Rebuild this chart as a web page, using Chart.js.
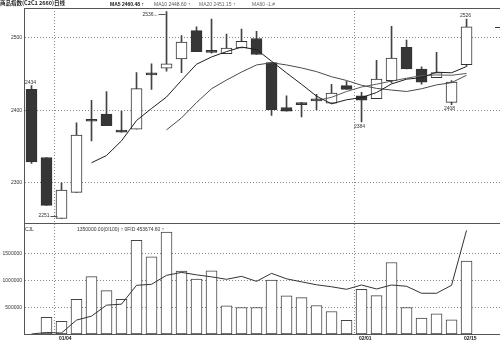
<!DOCTYPE html>
<html><head><meta charset="utf-8">
<script src="https://cdn.jsdelivr.net/npm/chart.js@4.4.0/dist/chart.umd.min.js"></script>
<style>
html,body{margin:0;padding:0;background:#fff;}
#wrap{position:relative;width:500px;height:343px;overflow:hidden;background:#fff;}
canvas{position:absolute;left:0;top:0;}
.t{position:absolute;font-family:"Liberation Sans",Arial,sans-serif;font-size:5px;line-height:6px;white-space:nowrap;color:#222;}
</style></head><body>
<div id="wrap">
<canvas id="c" width="500" height="343"></canvas>
<div class="t" style="left:0;top:0;font-family:'Noto Sans CJK SC';font-weight:bold;font-size:5.5px;">商品指数(C2C1 2660)日线</div>
<div class="t" style="left:110px;top:1px;color:#111;font-weight:bold">MA5 2460.48 ↑</div>
<div class="t" style="left:154px;top:1px;color:#555">MA10 2448.60 ↑</div>
<div class="t" style="left:199px;top:1px;color:#666">MA20 2451.15 ↑</div>
<div class="t" style="left:252px;top:1px;color:#666">MA60 -1.#</div>
<div class="t" style="left:25px;top:226px;color:#333">CJL</div>
<div class="t" style="left:77px;top:226px;color:#333">1350000.00(0/100) ↑ 0FID 453674.60 ↑</div>
</div>
<script>
// ---- data ----
const opens  = [2429,2335,2251,2287,2385,2395,2373,2374,2449,2458,2471,2510,2482,2478,2486,2499,2466,2404,2410,2413,2410,2434,2420,2416,2441,2487,2457,2445,2411,2463];
const highs  = [2434,2335,2300,2383,2414,2426,2399,2452,2464,2536,2503,2515,2526,2505,2512,2509,2466,2420,2411,2422,2436,2440,2425,2469,2516,2497,2460,2480,2441,2526];
const lows   = [2327,2269,2251,2287,2358,2379,2370,2374,2429,2454,2452,2481,2479,2478,2486,2477,2393,2399,2391,2401,2410,2429,2384,2416,2438,2457,2436,2445,2408,2461];
const closes = [2329,2269,2290,2366,2385,2379,2370,2430,2449,2464,2494,2481,2480,2486,2495,2477,2401,2399,2408,2413,2424,2429,2414,2443,2472,2457,2439,2452,2439,2515];
const ma5  = [null,null,null,null,2327.8,2337.8,2358.0,2386.0,2402.6,2418.4,2441.4,2463.6,2473.6,2481.0,2487.2,2483.8,2467.8,2451.6,2436.0,2419.6,2409.0,2414.6,2417.6,2424.6,2436.4,2443.0,2445.0,2452.6,2451.8,2460.4];
const ma10 = [null,null,null,null,null,null,null,null,null,2373.1,2389.6,2410.8,2429.8,2441.8,2452.8,2462.6,2465.7,2462.6,2458.5,2453.4,2446.4,2441.2,2434.6,2430.3,2428.0,2426.0,2429.8,2435.1,2438.2,2448.4];
const ma20 = [null,null,null,null,null,null,null,null,null,null,null,null,null,null,null,null,null,null,null,2413.3,2418.0,2426.0,2432.2,2436.1,2440.4,2444.3,2447.8,2448.9,2448.4,2450.9];
const volumes = [null,309000,235000,648000,1069000,809000,648000,1746000,1438000,1900000,1173000,1025000,1179000,525000,494000,494000,1006000,710000,679000,531000,420000,253000,833000,716000,1333000,494000,296000,377000,265000,1358000];
const volLine = [0,28000,18000,259000,333000,537000,556000,907000,926000,1093000,1148000,1102000,1065000,1019000,1074000,981000,1130000,1028000,972000,917000,880000,833000,913000,839000,913000,889000,759000,759000,907000,1931000];
const priceTicks = [2300,2400,2500];
const volTicks = [500000,1000000,1500000];
const dateLabels = ['01/04','02/01','02/15'];
const dateLabelCandle = [3,23,30];
const markCandle = [1,3,10,23,29,30];
const markKind   = ['high','low','high','low','low','high'];

// ---- chart ----
const FONT = '"Liberation Sans", Arial, sans-serif';
const idx = closes.map((_, i) => i + 1);
const isUp = closes.map((c, i) => c > opens[i]);
const isDoji = closes.map((c, i) => c === opens[i]);
const bodyFill = idx.map((_, i) => isDoji[i] ? '#333' : (isUp[i] ? '#ffffff' : '#363636'));

const framePlugin = {
  id: 'frame',
  afterDraw(chart) {
    const {ctx, chartArea, scales} = chart;
    ctx.save();
    ctx.strokeStyle = '#555';
    ctx.lineWidth = 1;
    [scales.y.top, scales.y.bottom].forEach(yy => {
      const p = Math.round(yy) + 0.5;
      ctx.beginPath(); ctx.moveTo(chartArea.left, p); ctx.lineTo(chartArea.right, p); ctx.stroke();
    });
    const py = Math.round(scales.y.getPixelForValue(closes[closes.length - 1])) + 0.5;
    ctx.strokeStyle = '#333';
    ctx.beginPath(); ctx.moveTo(chartArea.right - 5, py); ctx.lineTo(chartArea.right, py); ctx.stroke();
    ctx.restore();
  }
};

const markPlugin = {
  id: 'marks',
  afterDatasetsDraw(chart) {
    const {ctx, scales} = chart;
    ctx.save();
    ctx.font = '5px ' + FONT;
    ctx.fillStyle = '#333';
    ctx.strokeStyle = '#555';
    ctx.lineWidth = 1;
    markCandle.forEach((c, k) => {
      const kind = markKind[k];
      const v = kind === 'high' ? highs[c - 1] : lows[c - 1];
      const x = scales.x.getPixelForValue(c);
      const y = scales.y.getPixelForValue(v);
      const txt = String(v);
      if (c === 10) {
        ctx.textAlign = 'right'; ctx.textBaseline = 'middle';
        ctx.fillText(txt + '←', x - 8, y + 2.5);
        ctx.beginPath(); ctx.moveTo(x - 8, Math.round(y + 2.5) + 0.5); ctx.lineTo(x - 1, Math.round(y + 2.5) + 0.5); ctx.stroke();
      } else if (c === 3) {
        ctx.textAlign = 'right'; ctx.textBaseline = 'middle';
        ctx.fillText(txt, x - 12, y - 2.5);
        ctx.beginPath(); ctx.moveTo(x - 11, Math.round(y - 2.5) + 0.5); ctx.lineTo(x - 4, Math.round(y - 2.5) + 0.5); ctx.stroke();
      } else if (kind === 'high') {
        ctx.textAlign = 'center'; ctx.textBaseline = 'bottom';
        ctx.fillText(txt, x - 1, y - 1);
      } else {
        ctx.textAlign = 'center'; ctx.textBaseline = 'top';
        ctx.fillText(txt, x - 2, y + 2);
      }
    });
    ctx.restore();
  }
};

const yTickStyle = {font: {size: 5, family: FONT}, color: '#333', padding: 2, callback: v => String(v)};

new Chart(document.getElementById('c').getContext('2d'), {
  data: {
    datasets: [
      {type: 'line', data: idx.map(i => ({x: i, y: ma5[i - 1]})), borderColor: '#1e1e1e', borderWidth: 1, pointRadius: 0, tension: 0, yAxisID: 'y', order: 1},
      {type: 'line', data: idx.map(i => ({x: i, y: ma10[i - 1]})), borderColor: '#4a4a4a', borderWidth: 1, pointRadius: 0, tension: 0, yAxisID: 'y', order: 1},
      {type: 'line', data: idx.map(i => ({x: i, y: ma20[i - 1]})), borderColor: '#5a5a5a', borderWidth: 1, pointRadius: 0, tension: 0, yAxisID: 'y', order: 1},
      {type: 'bar', data: idx.map(i => ({x: i, y: [opens[i - 1], closes[i - 1]]})), backgroundColor: bodyFill, borderColor: '#333', borderWidth: 1, borderSkipped: false, barThickness: 11, minBarLength: 2, grouped: false, yAxisID: 'y', order: 2},
      {type: 'bar', data: idx.map(i => ({x: i, y: [lows[i - 1], highs[i - 1]]})), backgroundColor: '#444', barThickness: 1, grouped: false, yAxisID: 'y', order: 3},
      {type: 'line', data: idx.map(i => ({x: i, y: volLine[i - 1]})), borderColor: '#333', borderWidth: 1, pointRadius: 0, tension: 0, yAxisID: 'y2', order: 1},
      {type: 'bar', data: idx.map(i => ({x: i, y: volumes[i - 1]})), backgroundColor: '#ffffff', borderColor: '#444', borderWidth: 1, borderSkipped: false, barThickness: 11, grouped: false, yAxisID: 'y2', order: 2}
    ]
  },
  options: {
    responsive: false,
    animation: false,
    events: [],
    layout: {padding: {top: 8, left: 0, right: 0, bottom: 0}},
    plugins: {legend: {display: false}, tooltip: {enabled: false}},
    scales: {
      x: {
        type: 'linear', min: 0.5, max: 32.23, offset: false,
        afterBuildTicks: s => { s.ticks = dateLabelCandle.map(c => ({value: c - 0.5})); },
        ticks: {callback: (v, i) => dateLabels[i], align: 'start', labelOffset: 5, padding: 2, maxRotation: 0, autoSkip: false, font: {size: 5, weight: 'bold', family: FONT, lineHeight: 1}, color: '#111'},
        grid: {offset: false, color: c => (c.index < 2 ? '#888' : 'rgba(0,0,0,0)'), drawTicks: false, lineWidth: 1},
        border: {display: true, color: '#555', dash: [1, 2]}
      },
      y2: {
        stack: 'p', stackWeight: 112, position: 'left',
        min: 0, max: 2074074,
        afterBuildTicks: s => { s.ticks = volTicks.map(v => ({value: v})); },
        afterFit: s => { s.width = 24; },
        ticks: yTickStyle,
        grid: {color: '#888', drawTicks: false},
        border: {display: true, color: '#555', dash: [1, 2]}
      },
      y: {
        stack: 'p', stackWeight: 216, position: 'left',
        min: 2245.2, max: 2541.1,
        afterBuildTicks: s => { s.ticks = priceTicks.map(v => ({value: v})); },
        afterFit: s => { s.width = 24; },
        ticks: yTickStyle,
        grid: {color: '#888', drawTicks: false},
        border: {display: true, color: '#555', dash: [1, 2]}
      }
    }
  },
  plugins: [framePlugin, markPlugin]
});
</script>
</body></html>
